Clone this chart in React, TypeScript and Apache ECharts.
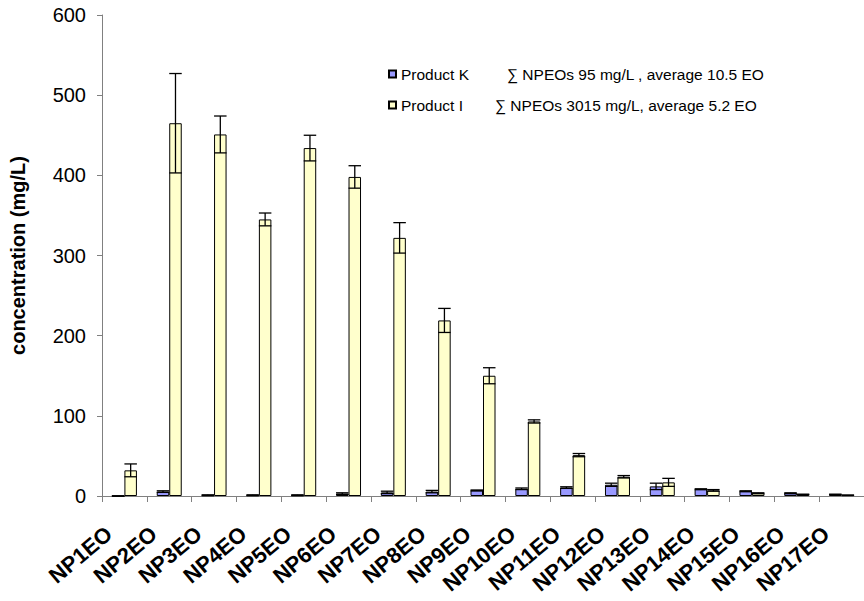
import React, { useEffect, useRef } from "react";
import * as echarts from "echarts";

const categories = ["NP1EO","NP2EO","NP3EO","NP4EO","NP5EO","NP6EO","NP7EO","NP8EO","NP9EO","NP10EO","NP11EO","NP12EO","NP13EO","NP14EO","NP15EO","NP16EO","NP17EO"];
const productK = [0, 5.5, 1, 1, 1, 3, 4.5, 5.5, 7, 9, 10.5, 14, 12, 8.5, 6, 3.5, 2];
const productKErr = [0, 1, 0.5, 0.5, 0.5, 1, 1.5, 1.5, 0.5, 1, 1, 2, 4, 0.5, 0.5, 0.5, 0.3];
const productI = [32, 465, 451, 345, 434, 398, 322, 219, 150, 93, 51, 24, 17, 7, 3.5, 2, 1];
const productIErr = [8, 62, 23, 8, 16, 14, 19, 15, 10, 2, 2, 1.5, 5, 1, 0.5, 0.3, 0.2];
const yTicks = [0, 100, 200, 300, 400, 500, 600];
const legendK = "∑ NPEOs 95 mg/L , average 10.5 EO";
const legendI = "∑ NPEOs 3015 mg/L, average 5.2 EO";

const BAR_W = 12.5;
const FONT = "Liberation Sans, Arial, sans-serif";

function errSeries(name: string, vals: number[], errs: number[], sign: number) {
  return {
    type: "custom",
    name: name + "_err",
    z: 5,
    data: vals.map((v, i) => [i, v, errs[i]]),
    renderItem: (params: any, api: any) => {
      const i = api.value(0);
      const v = api.value(1);
      const e = api.value(2);
      const top = api.coord([i, v + e]);
      const bot = api.coord([i, Math.max(0, v - e)]);
      const x = top[0] + sign * BAR_W / 2;
      const hw = BAR_W / 2;
      const style = { stroke: "#000", lineWidth: 1.3, fill: "none" };
      return {
        type: "group",
        children: [
          { type: "line", shape: { x1: x, y1: top[1], x2: x, y2: bot[1] }, style },
          { type: "line", shape: { x1: x - hw, y1: top[1], x2: x + hw, y2: top[1] }, style },
          { type: "line", shape: { x1: x - hw, y1: bot[1], x2: x + hw, y2: bot[1] }, style },
        ],
      };
    },
  };
}

export default function App() {
  const ref = useRef<HTMLDivElement>(null);
  useEffect(() => {
    if (!ref.current) return;
    const chart = echarts.init(ref.current, undefined, { renderer: "svg" });
    chart.setOption({
      animation: false,
      backgroundColor: "#fff",
      textStyle: { fontFamily: FONT },
      grid: { left: 83, right: 0, top: 15, bottom: 105, containLabel: false },
      legend: {
        orient: "vertical",
        left: 388,
        top: 66,
        padding: 0,
        itemWidth: 7,
        itemHeight: 7,
        itemGap: 15,
        icon: "rect",
        data: ["Product K", "Product I"],
        formatter: (name: string) =>
          name === "Product K" ? `{a|Product K}{b|${legendK}}` : `{c|Product I}{b|${legendI}}`,
        textStyle: {
          fontFamily: FONT,
          fontSize: 15.5,
          color: "#000",
          rich: {
            a: { width: 106, fontSize: 15.5, lineHeight: 18, fontFamily: FONT, color: "#000" },
            c: { width: 94, fontSize: 15.5, lineHeight: 18, fontFamily: FONT, color: "#000" },
            b: { fontSize: 15.5, lineHeight: 18, fontFamily: FONT, color: "#000" },
          },
        },
      },
      xAxis: {
        type: "category",
        data: categories,
        axisLine: { lineStyle: { color: "#808080", width: 1 } },
        axisTick: { show: true, alignWithLabel: false, length: 6, lineStyle: { color: "#808080" } },
        axisLabel: {
          rotate: 40,
          interval: 0,
          margin: 22,
          formatter: (v: string) => `{t|${v}}`,
          rich: {
            t: {
              fontSize: 22,
              fontWeight: "bold",
              fontFamily: FONT,
              color: "#000",
              padding: [0, 20, 0, 0],
            },
          },
        },
      },
      yAxis: {
        type: "value",
        min: 0,
        max: 600,
        interval: 100,
        name: "concentration (mg/L)",
        nameLocation: "middle",
        nameGap: 74,
        nameTextStyle: { fontSize: 20, fontWeight: "bold", fontFamily: FONT, color: "#000" },
        axisLine: { show: true, lineStyle: { color: "#808080", width: 1 } },
        axisTick: { show: true, length: 5, lineStyle: { color: "#808080" } },
        splitLine: { show: false },
        axisLabel: {
          fontSize: 20,
          fontFamily: FONT,
          color: "#000",
          margin: 16,
          formatter: (v: number) => (yTicks.includes(v) ? String(v) : ""),
        },
      },
      series: [
        {
          type: "bar",
          name: "Product K",
          data: productK,
          barWidth: BAR_W,
          barGap: "0%",
          itemStyle: { color: "#9999FF", borderColor: "#000", borderWidth: 1 },
        },
        {
          type: "bar",
          name: "Product I",
          data: productI,
          barWidth: BAR_W,
          barGap: "0%",
          itemStyle: { color: "#FFFFCC", borderColor: "#000", borderWidth: 1 },
        },
        errSeries("Product K", productK, productKErr, -1),
        errSeries("Product I", productI, productIErr, 1),
      ],
    });
    return () => chart.dispose();
  }, []);
  return (
    <div
      ref={ref}
      style={{ position: "fixed", left: 0, top: 0, width: 864, height: 601, background: "#fff" }}
    />
  );
}
